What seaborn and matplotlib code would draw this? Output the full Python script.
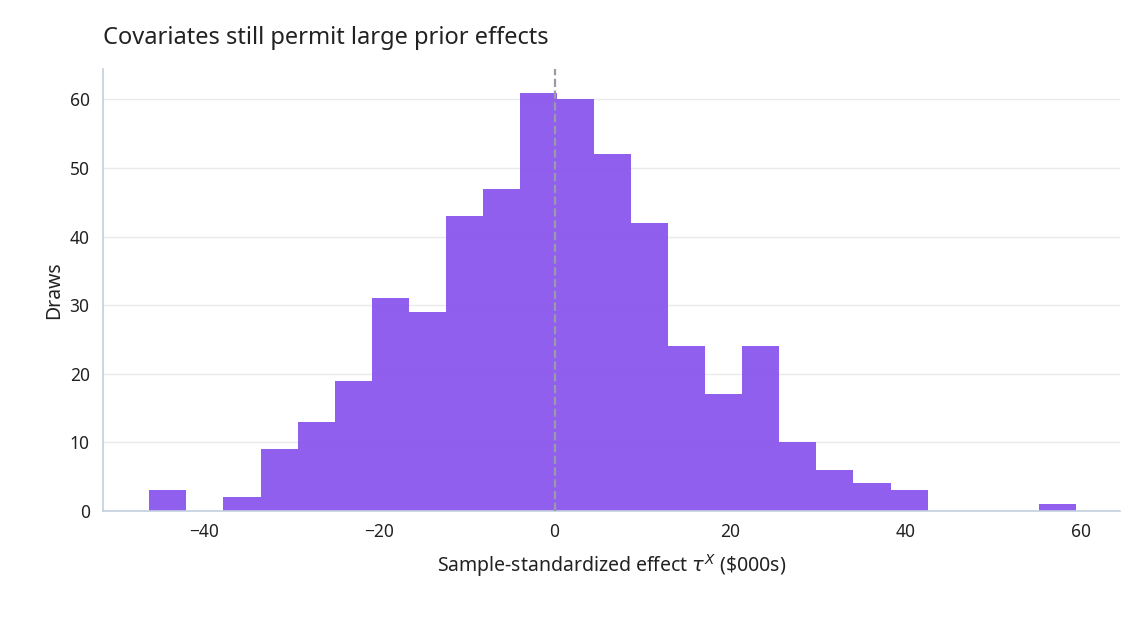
import numpy as np
import pandas as pd
import seaborn as sns
import matplotlib.pyplot as plt

# histogram counts
bin_start = -46.2
bin_width = 4.226
counts = [3, 0, 2, 9, 13, 19, 31, 29, 43, 47, 61, 60, 52, 42, 24, 17, 24, 10, 6, 4, 3, 0, 0, 0, 1]

edges = bin_start + bin_width * np.arange(len(counts) + 1)
centers = (edges[:-1] + edges[1:]) / 2
df = pd.DataFrame({"tau": centers, "n": counts})

sns.set_theme(style="white")
plt.rcParams['font.family'] = ['Noto Sans', 'DejaVu Sans']

fig, ax = plt.subplots(figsize=(11.43, 6.23), dpi=100)
sns.histplot(data=df, x="tau", weights="n", bins=list(edges), color="#8149eb",
             alpha=0.88, edgecolor="none", linewidth=0, ax=ax)
ax.axvline(0, color="#9a9aa8", linestyle="--", linewidth=1.6, zorder=3)

ax.set_xlim(-51.5, 64.5)
ax.set_ylim(0, 64.5)
ax.set_yticks([0, 10, 20, 30, 40, 50, 60])
ax.set_xticks([-40, -20, 0, 20, 40, 60])
ax.set_xticklabels(["\u221240", "\u221220", "0", "20", "40", "60"])
ax.yaxis.grid(True, color="#e8eaee", linewidth=1)
ax.set_axisbelow(True)
for s in ["top", "right"]:
    ax.spines[s].set_visible(False)
for s in ["left", "bottom"]:
    ax.spines[s].set_color("#c3cfdf")
    ax.spines[s].set_linewidth(1.2)
ax.tick_params(axis="x", length=10, width=2, color="#222222", labelsize=12.5, direction="inout")
ax.tick_params(axis="y", length=6, width=2, color="#222222", labelsize=12.5)
ax.tick_params(colors="#222222", which="both")

ax.set_xlabel(r"Sample-standardized effect $\tau^X$ (\$000s)", fontsize=14, color="#222222", labelpad=8)
ax.set_ylabel("Draws", fontsize=14, color="#222222")
ax.set_title("Covariates still permit large prior effects", fontsize=17, fontweight="bold",
             loc="left", color="#222222", pad=18)

plt.subplots_adjust(left=0.09, right=0.98, top=0.89, bottom=0.18)
plt.savefig("out.png")
